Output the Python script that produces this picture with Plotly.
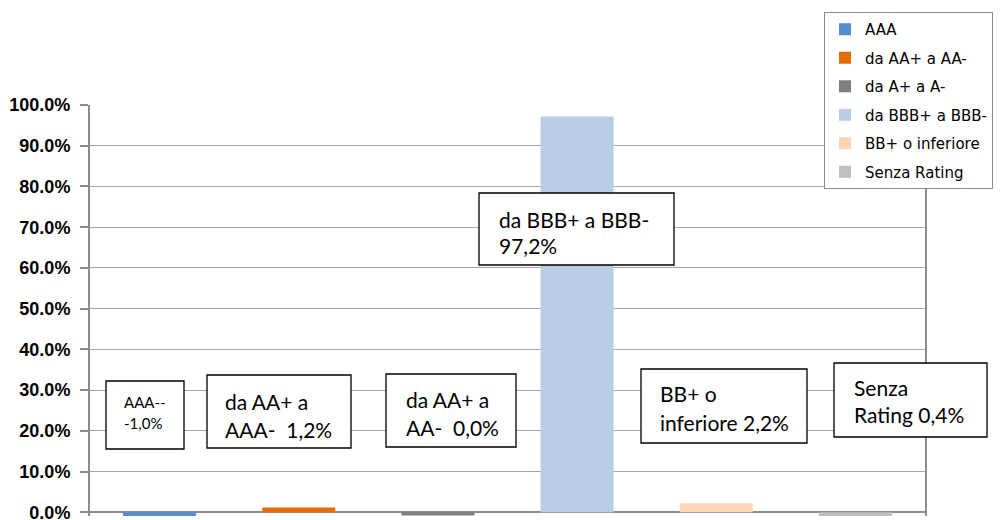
import plotly.graph_objects as go

# ---------------- data ----------------
categories = ["AAA", "da AA+ a AA-", "da A+ a A-", "da BBB+ a BBB-", "BB+ o inferiore", "Senza Rating"]
values = [-1.0, 1.2, -0.8, 97.2, 2.2, -0.9]          # % of portfolio
bar_colors = ["#558ED5", "#E46C0A", "#7F7F7F", "#B9CDE5", "#FCD5B5", "#BFBFBF"]
box_texts = [
    ["AAA--", "-1,0%"],
    ["da AA+ a", "AAA-  1,2%"],
    ["da AA+ a", "AA-  0,0%"],
    ["da BBB+ a BBB-", "97,2%"],
    ["BB+ o", "inferiore 2,2%"],
    ["Senza", "Rating 0,4%"],
]
y_ticks = [0, 10, 20, 30, 40, 50, 60, 70, 80, 90, 100]

# ---------------- layout geometry (pixels) ----------------
W, H = 1000, 520
PL, PR, PT, PB = 90, 925, 105, 516
# box: x0, y0, x1, y1, text-left, line centres, font size
box_geom = [
    (106, 381, 184, 449, 122, [402, 423], 15),
    (207, 375, 351, 448, 223, [401, 429], 21),
    (386, 374, 516, 447, 404, [399, 427], 21),
    (479, 193, 674, 265, 497, [219, 245], 21),
    (641, 369, 807, 443, 658, [393, 422], 21),
    (834, 363, 987, 437, 852, [387, 414], 21),
]


def xp(px):
    return (px - PL) / (PR - PL)


def yp(py):
    return (PB - py) / (PB - PT)


fig = go.Figure()
for i, (c, v, col) in enumerate(zip(categories, values, bar_colors)):
    fig.add_trace(go.Bar(
        x=[c], y=[v], name=c, marker=dict(color=col, line=dict(width=0)),
        width=0.525, legendgroup=f"g{i}", hoverinfo="x+y",
    ))

shapes = []
annotations = []
for lines, (x0, y0, x1, y1, tx, lys, fs) in zip(box_texts, box_geom):
    shapes.append(dict(type="rect", xref="paper", yref="paper",
                       x0=xp(x0), x1=xp(x1), y0=yp(y1), y1=yp(y0),
                       line=dict(color="black", width=1.3), fillcolor="white", layer="above"))
    for ln, ly in zip(lines, lys):
        annotations.append(dict(xref="paper", yref="paper", x=xp(tx), y=yp(ly),
                                xanchor="left", yanchor="middle", showarrow=False,
                                text=ln, font=dict(family="Lato", size=fs, color="black")))

fig.update_layout(
    width=W, height=H,
    margin=dict(l=PL, r=W - PR, t=PT, b=H - PB, autoexpand=False),
    paper_bgcolor="white", plot_bgcolor="white",
    barmode="overlay",
    showlegend=True,
    legend=dict(
        xref="container", yref="container",
        x=824 / W, y=1 - 12 / H, xanchor="left", yanchor="top",
        bordercolor="#8C8C8C", borderwidth=1, bgcolor="white",
        font=dict(family="DejaVu Sans", size=15, color="black"),
        traceorder="grouped", tracegroupgap=6,
    ),
    xaxis=dict(showticklabels=False, showgrid=False, zeroline=False, showline=False,
               ticks="", categoryorder="array", categoryarray=categories, fixedrange=True,
               automargin=False),
    yaxis=dict(
        range=[-0.9, 100], tickvals=y_ticks,
        ticktext=[f"{t:.1f}%" for t in y_ticks],
        showgrid=True, gridcolor="#A6A6A6", gridwidth=1.3,
        zeroline=True, zerolinecolor="#8C8C8C", zerolinewidth=2,
        showline=True, linecolor="#8C8C8C", linewidth=2, mirror=True,
        ticks="outside", ticklen=8, tickcolor="#8C8C8C", tickwidth=2,
        ticklabelstandoff=6, ticklabeloverflow="allow", automargin=False,
        tickfont=dict(family="Liberation Sans, Arial", size=18, color="black", weight="bold"),
        fixedrange=True,
    ),
    shapes=shapes,
    annotations=annotations,
)

fig.write_html("out.html")
